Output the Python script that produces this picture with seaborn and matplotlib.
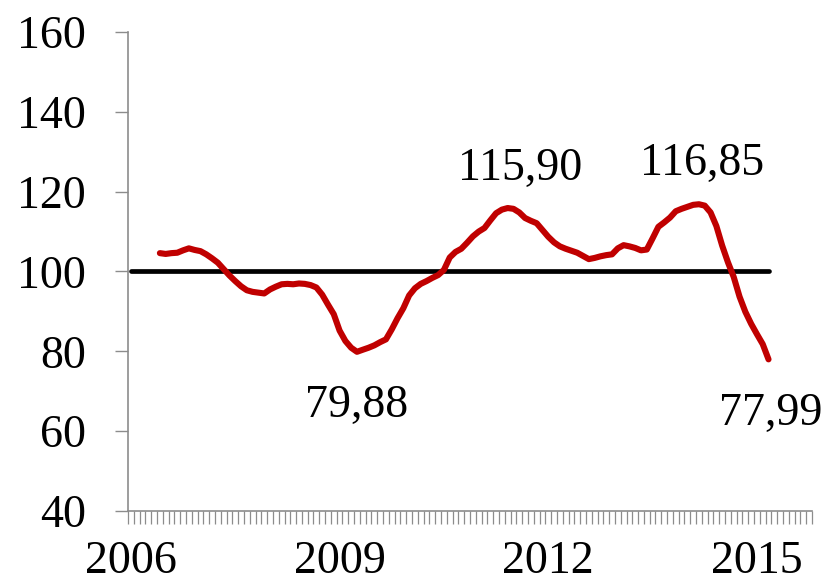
import matplotlib
matplotlib.use("Agg")
import matplotlib.pyplot as plt
import seaborn as sns
import pandas as pd
import numpy as np
from matplotlib.ticker import FixedLocator

# ---------------- data ----------------
n_months = 118                      # monthly categories, Jan 2006 ...
year_labels = ["2006", "2009", "2012", "2015"]
label_months = [0, 36, 72, 108]
series_start = 5                    # first month with a value
values = [
    104.6, 104.4, 104.6, 104.7, 105.3, 105.8, 105.4, 105.1, 104.3, 103.3,
    102.2, 100.6, 99.0, 97.6, 96.3, 95.3, 94.9, 94.7, 94.5, 95.5,
    96.2, 96.8, 96.9, 96.8, 97.0, 96.9, 96.6, 96.0, 94.2, 91.7,
    89.3, 85.2, 82.6, 80.9, 79.88, 80.4, 80.9, 81.5, 82.3, 83.0,
    85.5, 88.3, 90.8, 94.0, 95.8, 96.9, 97.6, 98.4, 99.1, 100.4,
    103.5, 104.9, 105.7, 107.2, 108.8, 110.0, 110.9, 112.8, 114.6, 115.5,
    115.90, 115.7, 114.8, 113.4, 112.7, 112.1, 110.4, 108.7, 107.3, 106.3,
    105.7, 105.2, 104.7, 103.9, 103.1, 103.4, 103.8, 104.1, 104.3, 105.8,
    106.6, 106.3, 105.9, 105.3, 105.5, 108.3, 111.2, 112.3, 113.5, 115.1,
    115.7, 116.2, 116.7, 116.85, 116.5, 114.8, 111.4, 106.5, 102.3, 98.6,
    93.7, 89.9, 86.9, 84.3, 81.8, 77.99,
]
baseline_value = 100
annotated_months = [39, 65, 98, 110]

# ---------------- build frames ----------------
months = np.arange(series_start, series_start + len(values))
df = pd.DataFrame({"month": months, "value": values})
base_months = np.arange(0, months[-1] + 1)
base_df = pd.DataFrame({"month": base_months,
                        "value": [baseline_value] * len(base_months)})

sns.set_style("white")
plt.rcParams["font.family"] = ["Liberation Serif", "DejaVu Serif"]
plt.rcParams["text.color"] = "black"
plt.rcParams["xtick.labelcolor"] = "black"
plt.rcParams["ytick.labelcolor"] = "black"

fig = plt.figure(figsize=(8.27, 5.87), dpi=100)
ax = fig.add_axes([128 / 827, 1 - 511 / 587, (812 - 128) / 827, (511 - 32) / 587])

sns.lineplot(data=base_df, x="month", y="value", ax=ax, color="black",
             linewidth=3.4, solid_capstyle="round")
sns.lineplot(data=df, x="month", y="value", ax=ax, color="#C00000",
             linewidth=4.4, solid_capstyle="round", solid_joinstyle="round")

ax.set_xlim(-0.5, n_months - 0.5)
ax.set_ylim(40, 160)
ax.set_yticks(np.arange(40, 161, 20))
ax.set_xlabel("")
ax.set_ylabel("")

# x axis: category ticks between months, year labels centred on months
ax.set_xticks(label_months)
ax.set_xticklabels(year_labels)
ax.xaxis.set_minor_locator(FixedLocator(np.arange(-0.5, n_months, 1.0)))
ax.tick_params(axis="x", which="major", length=0, pad=21, labelsize=33)
ax.tick_params(axis="x", which="minor", length=9, width=0.9,
               color="#8c8c8c", direction="out", bottom=True)
ax.tick_params(axis="y", which="major", length=9.5, width=1.0,
               color="#8c8c8c", direction="out", left=True, pad=21,
               labelsize=33)

for side in ["top", "right"]:
    ax.spines[side].set_visible(False)
for side in ["left", "bottom"]:
    ax.spines[side].set_color("#8c8c8c")
    ax.spines[side].set_linewidth(1.2)
ax.grid(False)

offsets = {39: (0, -65), 65: (12, 28), 98: (3, 29), 110: (2, -66)}
for m in annotated_months:
    v = df.loc[df["month"] == m, "value"].iloc[0]
    ax.annotate(f"{v:.2f}".replace(".", ","), xy=(m, v),
                xytext=offsets[m], textcoords="offset pixels",
                ha="center", va="baseline", fontsize=33, color="black",
                annotation_clip=False)

fig.savefig("out.png", dpi=100)
